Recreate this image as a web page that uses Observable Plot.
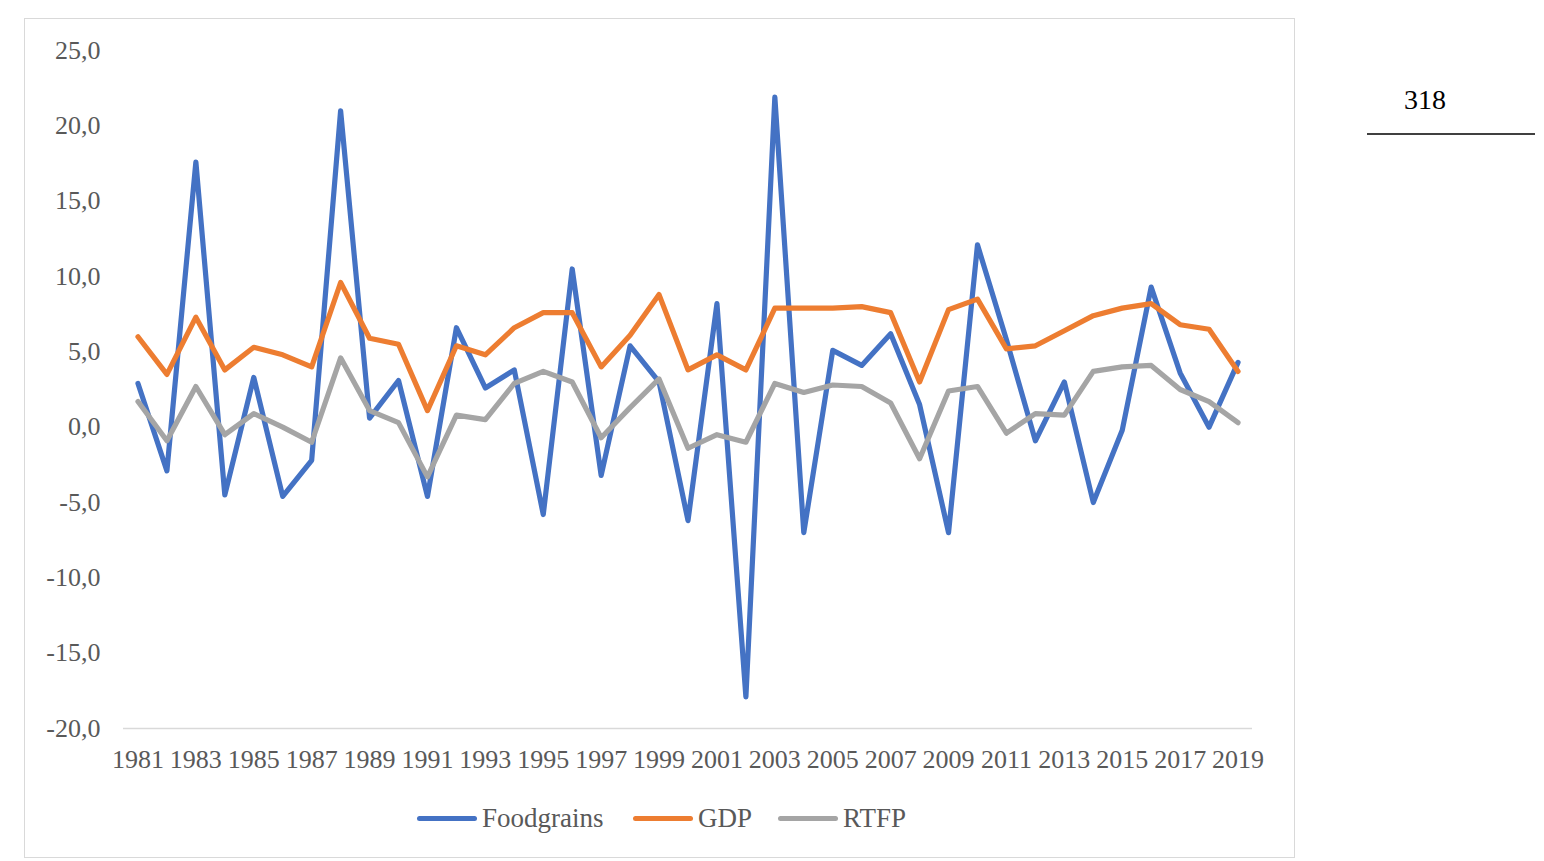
<!DOCTYPE html>
<html>
<head>
<meta charset="utf-8">
<script src="https://cdn.jsdelivr.net/npm/d3@7"></script>
<script src="https://cdn.jsdelivr.net/npm/@observablehq/plot@0.6"></script>
<style>
  html, body { margin: 0; padding: 0; background: #fff; }
  #wrap { position: relative; width: 1544px; height: 861px; overflow: hidden; font-family: "Liberation Serif", "Times New Roman", serif; }
  #frame { position: absolute; left: 24px; top: 18px; width: 1271px; height: 840px; border: 1.5px solid #d9d9d9; box-sizing: border-box; }
  #chart { position: absolute; left: 0; top: 0; }
  #legend { position: absolute; top: 802px; left: 0; width: 1544px; height: 32px; }
  .item { position: absolute; top: 0; display: flex; align-items: center; height: 32px; font-size: 27px; color: #595959; }
  .sw { width: 60px; height: 5px; border-radius: 3px; margin-right: 5px; }
  #pg { position: absolute; left: 1404px; top: 82px; font-size: 28px; line-height: 36px; color: #000; }
  #pgline { position: absolute; left: 1367px; top: 133px; width: 168px; height: 2px; background: #404040; }
</style>
</head>
<body>
<div id="wrap">
  <div id="frame"></div>
  <div id="chart"></div>
  <div id="legend"></div>
  <div id="pg">318</div>
  <div id="pgline"></div>
</div>
<script>
const years = d3.range(1981, 2020);
const foodgrains = [2.9, -2.9, 17.6, -4.5, 3.3, -4.6, -2.2, 21.0, 0.6, 3.1,
  -4.6, 6.6, 2.6, 3.8, -5.8, 10.5, -3.2, 5.4, 3.0, -6.2,
  8.2, -17.9, 21.9, -7.0, 5.1, 4.1, 6.2, 1.5, -7.0, 12.1,
  5.8, -0.9, 3.0, -5.0, -0.2, 9.3, 3.6, 0.0, 4.3];
const gdp = [6.0, 3.5, 7.3, 3.8, 5.3, 4.8, 4.0, 9.6, 5.9, 5.5,
  1.1, 5.4, 4.8, 6.6, 7.6, 7.6, 4.0, 6.1, 8.8, 3.8,
  4.8, 3.8, 7.9, 7.9, 7.9, 8.0, 7.6, 3.0, 7.8, 8.5,
  5.2, 5.4, 6.4, 7.4, 7.9, 8.2, 6.8, 6.5, 3.7];
const rtfp = [1.7, -0.9, 2.7, -0.5, 0.9, 0.0, -1.0, 4.6, 1.1, 0.3,
  -3.3, 0.8, 0.5, 2.9, 3.7, 3.0, -0.7, 1.3, 3.2, -1.4,
  -0.5, -1.0, 2.9, 2.3, 2.8, 2.7, 1.6, -2.1, 2.4, 2.7,
  -0.4, 0.9, 0.8, 3.7, 4.0, 4.1, 2.5, 1.7, 0.3];
const seriesNames = ["Foodgrains", "GDP", "RTFP"];
const seriesColors = ["#4472C4", "#ED7D31", "#A5A5A5"];
const xTicks = years.filter(y => y % 2 === 1);
const yTicks = [-20, -15, -10, -5, 0, 5, 10, 15, 20, 25];

const seriesValues = [foodgrains, gdp, rtfp];
const data = [];
seriesNames.forEach((name, i) => {
  seriesValues[i].forEach((v, j) => data.push({series: name, year: years[j], value: v}));
});

const fmt = d => d.toFixed(1).replace(".", ",");

const chart = Plot.plot({
  width: 1544,
  height: 861,
  marginLeft: 123,
  marginRight: 292,
  marginTop: 50,
  marginBottom: 133,
  style: { fontFamily: "Liberation Serif, Times New Roman, serif", fontSize: "26px", color: "#595959", background: "transparent" },
  x: { type: "linear", domain: [1980.5, 2019.5] },
  y: { domain: [-20, 25] },
  color: { domain: seriesNames, range: seriesColors },
  marks: [
    Plot.axisY({ ticks: yTicks, tickFormat: fmt, tickSize: 0, tickPadding: 23, label: null, fill: "#595959", fontSize: 26 }),
    Plot.axisX({ ticks: xTicks, tickFormat: d => String(d), tickSize: 0, tickPadding: 21, label: null, fill: "#595959", fontSize: 26 }),
    Plot.ruleY([-20], { stroke: "#d9d9d9", strokeWidth: 1.5 }),
    Plot.line(data, { x: "year", y: "value", z: "series", stroke: "series", strokeWidth: 5.2, strokeLinejoin: "round", strokeLinecap: "round" })
  ]
});
document.getElementById("chart").appendChild(chart);

const legend = document.getElementById("legend");
const lefts = [417, 633, 778];
seriesNames.forEach((name, i) => {
  const it = document.createElement("div");
  it.className = "item";
  it.style.left = lefts[i] + "px";
  const sw = document.createElement("div");
  sw.className = "sw";
  sw.style.background = seriesColors[i];
  const tx = document.createElement("span");
  tx.textContent = name;
  it.appendChild(sw);
  it.appendChild(tx);
  legend.appendChild(it);
});
</script>
</body>
</html>
